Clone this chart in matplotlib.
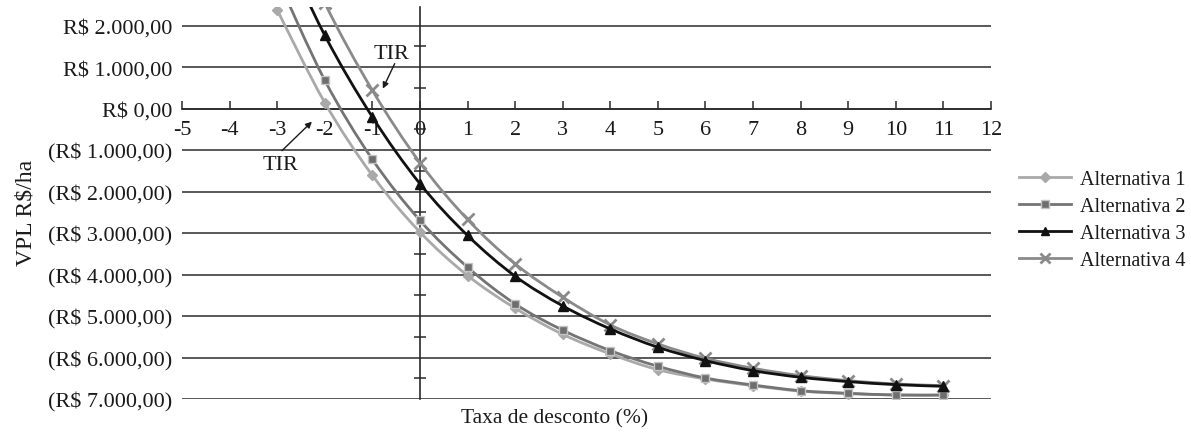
import numpy as np
import matplotlib
matplotlib.use("Agg")
import matplotlib.pyplot as plt
from matplotlib.path import Path
from matplotlib.patches import PathPatch
from matplotlib.lines import Line2D

# Taxa de desconto (%) and VPL (R$/ha) for each alternative
taxa = [-3, -2, -1, 0, 1, 2, 3, 4, 5, 6, 7, 8, 9, 10, 11]
alt1 = [2380, 145, -1609, -2976, -4023, -4811, -5440, -5913, -6293, -6517, -6680, -6810, -6870, -6905, -6908]
alt2 = [3150, 683, -1223, -2695, -3822, -4707, -5340, -5833, -6211, -6493, -6662, -6800, -6862, -6903, -6903]
alt3 = [4200, 1769, -200, -1810, -3057, -4039, -4755, -5310, -5752, -6075, -6316, -6477, -6581, -6654, -6694]
alt4 = [5150, 2550, 442, -1303, -2671, -3741, -4546, -5214, -5672, -6019, -6259, -6436, -6557, -6637, -6678]
nomes = ["Alternativa 1", "Alternativa 2", "Alternativa 3", "Alternativa 4"]

x_ticks = list(range(-5, 13))
y_ticks = list(range(-7000, 2001, 1000))

plt.rcParams["font.family"] = ["Liberation Serif", "DejaVu Serif"]
TXT = "#1a1a1a"


def brl(v):
    s = f"{abs(v):,.2f}".replace(",", "X").replace(".", ",").replace("X", ".")
    return f"R$ {s}" if v >= 0 else f"(R$ {s})"


def smooth_path(xs, ys):
    """Bezier path through the points (Catmull-Rom style smoothing)."""
    pts = np.column_stack([xs, ys]).astype(float)
    n = len(pts)
    verts = [pts[0]]
    codes = [Path.MOVETO]
    for i in range(n - 1):
        p0 = pts[i - 1] if i > 0 else pts[i]
        p1, p2 = pts[i], pts[i + 1]
        p3 = pts[i + 2] if i + 2 < n else pts[i + 1]
        verts += [p1 + (p2 - p0) / 6.0, p2 - (p3 - p1) / 6.0, p2]
        codes += [Path.CURVE4] * 3
    return Path(verts, codes)


W, H = 1191, 435
fig = plt.figure(figsize=(W / 100, H / 100), dpi=100)
ax = fig.add_axes([182 / W, 1 - 400 / H, (991 - 182) / W, (400 - 8) / H])
ax.set_xlim(-5, 12)
ax.set_ylim(-7000, 2450)

# horizontal gridlines
for v in y_ticks:
    ax.axhline(v, color="#3c3c3c", lw=1.2, zorder=1)

# axes crossing at the origin
for side in ("top", "right"):
    ax.spines[side].set_visible(False)
ax.spines["bottom"].set_position(("data", 0))
ax.spines["left"].set_position(("data", 0))
for side in ("bottom", "left"):
    ax.spines[side].set_color("#2a2a2a")
    ax.spines[side].set_linewidth(1.2)
    ax.spines[side].set_zorder(2)

ax.set_xticks(x_ticks)
ax.set_xticklabels([str(t) for t in x_ticks])
ax.tick_params(axis="x", direction="in", length=6, width=1.1, color="#2a2a2a",
               labelsize=16, labelcolor=TXT, pad=8.5)
ax.set_yticks(y_ticks)
ax.set_yticks(np.arange(-6500, 2450, 1000), minor=True)
ax.tick_params(axis="y", which="major", length=0, labelleft=False)
ax.tick_params(axis="y", which="minor", direction="inout", length=9, width=1.1,
               color="#2a2a2a", labelleft=False)

# currency labels at the left edge of the plot area
sec = ax.secondary_yaxis("left")
sec.set_yticks(y_ticks)
sec.set_yticklabels([brl(v) for v in y_ticks])
sec.spines["left"].set_visible(False)
sec.tick_params(axis="y", length=0, labelsize=16, labelcolor=TXT, pad=7)

styles = [
    dict(color="#a9a9a9", marker="D", ms=5.5, mfc="#a9a9a9", mec="#a9a9a9", lw=2.0, mew=1.0),
    dict(color="#747474", marker="s", ms=6.0, mfc="#6e6e6e", mec="#c4c4c4", lw=2.0, mew=1.0),
    dict(color="#111111", marker="^", ms=7.0, mfc="#111111", mec="#111111", lw=2.0, mew=1.0),
    dict(color="#8a8a8a", marker="x", ms=8.0, mfc="#8a8a8a", mec="#8a8a8a", lw=2.0, mew=2.0),
]
series = [alt1, alt2, alt3, alt4]

handles = []
for vals, st, nome, z in zip(series, styles, nomes, [3, 4, 6, 5]):
    ax.add_patch(PathPatch(smooth_path(taxa, vals), fill=False, edgecolor=st["color"],
                           lw=st["lw"], zorder=z, capstyle="round", joinstyle="round"))
    ax.plot(taxa, vals, ls="none", marker=st["marker"], ms=st["ms"], mfc=st["mfc"],
            mec=st["mec"], mew=st["mew"], zorder=z + 0.5)
    handles.append(Line2D([], [], color=st["color"], lw=st["lw"], marker=st["marker"],
                          ms=st["ms"] * 0.85, mfc=st["mfc"], mec=st["mec"], mew=st["mew"]))

# internal rate of return callouts
arrow = dict(arrowstyle="-|>", color="#1a1a1a", lw=1.0, mutation_scale=9,
             shrinkA=0, shrinkB=0)
ax.text(-0.59, 1330, "TIR", fontsize=16, color=TXT, ha="center", va="center", zorder=8)
ax.annotate("", xy=(-0.78, 483), xytext=(-0.53, 1086), arrowprops=arrow, zorder=8)
ax.text(-2.94, -1350, "TIR", fontsize=16, color=TXT, ha="center", va="center", zorder=8)
ax.annotate("", xy=(-2.27, -314), xytext=(-2.90, -1014), arrowprops=arrow, zorder=8)

fig.legend(handles, nomes, loc="center left", bbox_to_anchor=(1019 / W, 1 - 221 / H),
           frameon=False, fontsize=14.5, handlelength=2.6, handletextpad=0.45,
           labelspacing=0.4, borderpad=0, borderaxespad=0, labelcolor=TXT)

fig.text(555 / W, 1 - 419 / H, "Taxa de desconto (%)", fontsize=15.5, color=TXT,
         ha="center", va="center")
fig.text(26 / W, 1 - 213 / H, "VPL R$/ha", fontsize=17, color=TXT, rotation=90,
         ha="center", va="center")

fig.savefig("out.png", dpi=100)
